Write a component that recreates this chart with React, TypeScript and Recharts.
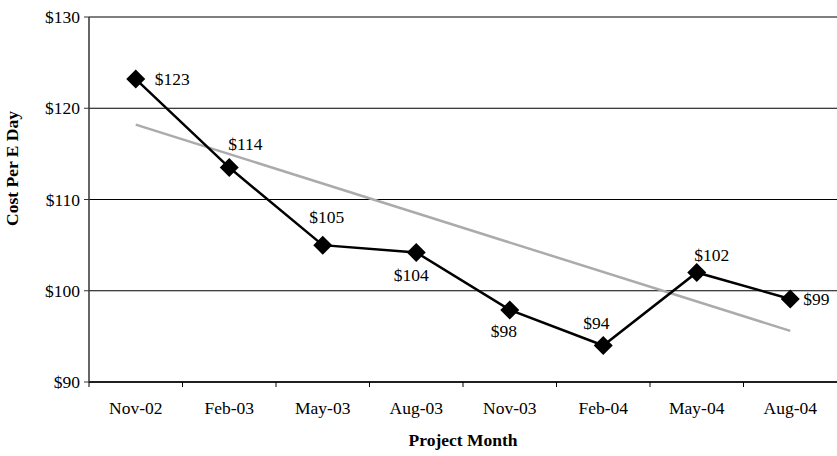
import {
  LineChart,
  Line,
  XAxis,
  YAxis,
  CartesianGrid,
  LabelList,
} from "recharts";

// quarterly cost per E day
const months = ["Nov-02", "Feb-03", "May-03", "Aug-03", "Nov-03", "Feb-04", "May-04", "Aug-04"];
const costPerDay = [123.2, 113.5, 105.0, 104.2, 97.9, 94.0, 102.0, 99.1];
// linear trend, first and last month
const trendStart = 118.2;
const trendEnd = 95.6;
const yTicks = [90, 100, 110, 120, 130];

const data = months.map((month, i) => ({
  month,
  cost: costPerDay[i],
  trend: i === 0 ? trendStart : i === months.length - 1 ? trendEnd : null,
}));

const W = 837;
const H = 456;
const Y_AXIS_W = 89;
const X_AXIS_H = 74;
const BAND = (W - Y_AXIS_W) / months.length;
const FONT = '"Liberation Serif", "DejaVu Serif", serif';
const FS = 17.5;

// where each value label sits relative to its marker
const labelPlacement = [
  { dx: 19, dy: 0, anchor: "start" },
  { dx: -1, dy: -24, anchor: "start" },
  { dx: 4, dy: -28, anchor: "middle" },
  { dx: -5, dy: 23, anchor: "middle" },
  { dx: -6, dy: 21, anchor: "middle" },
  { dx: -7, dy: -23, anchor: "middle" },
  { dx: 15, dy: -18, anchor: "middle" },
  { dx: 13, dy: 0, anchor: "start" },
];

const Diamond = (props: any) => {
  const { cx, cy, index } = props;
  const r = 9.5;
  return (
    <polygon
      key={`d-${index}`}
      points={`${cx},${cy - r} ${cx + r},${cy} ${cx},${cy + r} ${cx - r},${cy}`}
      fill="#000"
    />
  );
};

const ValueLabel = (props: any) => {
  const { x, y, value, index } = props;
  const p = labelPlacement[index];
  return (
    <text
      x={x + p.dx}
      y={y + p.dy}
      textAnchor={p.anchor}
      dominantBaseline="central"
      fontFamily={FONT}
      fontSize={FS}
      fill="#000"
    >
      ${Math.round(value)}
    </text>
  );
};

const MonthTick = (props: any) => {
  const { x, y, payload } = props;
  const edge = x - BAND / 2;
  return (
    <g>
      <line x1={edge} y1={y} x2={edge} y2={y + 5} stroke="#000" />
      <text x={x} y={y + 32} textAnchor="middle" fontFamily={FONT} fontSize={FS} fill="#000">
        {payload.value}
      </text>
    </g>
  );
};

const YTitle = (props: any) => {
  const { viewBox } = props;
  const cx = viewBox.x + 12;
  const cy = viewBox.y + viewBox.height / 2 - 31;
  return (
    <text
      x={cx}
      y={cy}
      transform={`rotate(-90, ${cx}, ${cy})`}
      textAnchor="middle"
      dominantBaseline="central"
      fontFamily={FONT}
      fontSize={FS}
      fontWeight="bold"
      fill="#000"
    >
      Cost Per E Day
    </text>
  );
};

const App = () => {
  return (
    <div style={{ position: "absolute", left: 0, top: 0, width: W, height: H, background: "#fff" }}>
      <LineChart width={W} height={H} data={data} margin={{ top: 17, right: 0, bottom: 0, left: 0 }}>
        <CartesianGrid vertical={false} stroke="#000" strokeWidth={1} />
        <XAxis
          dataKey="month"
          interval={0}
          height={X_AXIS_H}
          padding={{ left: BAND / 2, right: BAND / 2 }}
          axisLine={{ stroke: "#000", strokeWidth: 1.5 }}
          tickLine={false}
          tickSize={0}
          tickMargin={0}
          tick={<MonthTick />}
          label={{
            value: "Project Month",
            position: "insideBottom",
            offset: 10,
            fontFamily: FONT,
            fontSize: FS,
            fontWeight: "bold",
            fill: "#000",
          }}
        />
        <YAxis
          width={Y_AXIS_W}
          domain={[90, 130]}
          ticks={yTicks}
          interval={0}
          tickFormatter={(v) => `$${v}`}
          axisLine={{ stroke: "#333", strokeWidth: 1.5 }}
          tickLine={{ stroke: "#333" }}
          tickSize={5}
          tickMargin={4}
          tick={{ fontFamily: FONT, fontSize: FS, fill: "#000" }}
          label={<YTitle />}
        />
        <Line
          dataKey="trend"
          type="linear"
          stroke="#ababab"
          strokeWidth={2.5}
          dot={false}
          connectNulls
          isAnimationActive={false}
        />
        <Line
          dataKey="cost"
          type="linear"
          stroke="#000"
          strokeWidth={2.5}
          dot={<Diamond />}
          isAnimationActive={false}
        >
          <LabelList dataKey="cost" content={<ValueLabel />} />
        </Line>
      </LineChart>
    </div>
  );
};

export default App;
